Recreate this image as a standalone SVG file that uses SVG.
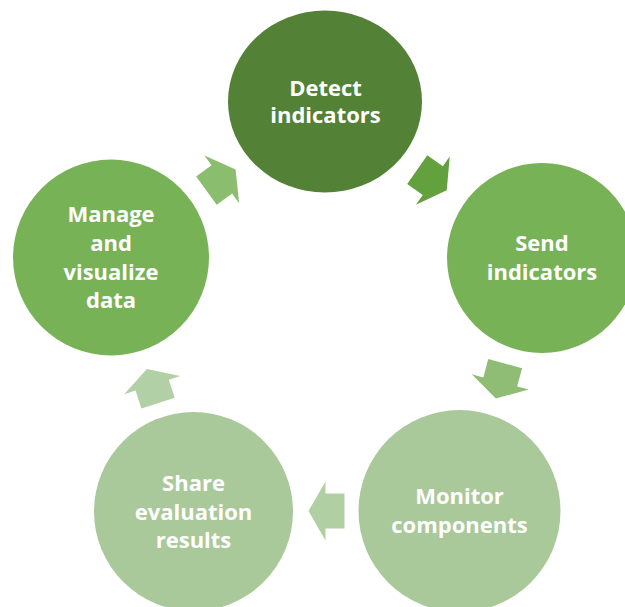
<svg xmlns="http://www.w3.org/2000/svg" width="625" height="607" viewBox="0 0 625 607">
  <defs>
    <!-- block arrow pointing along +x, centred on the origin -->
    <polygon id="cycle-arrow" points="-18,-17.5 1,-17.5 1,-29.5 18,0 1,29.5 1,17.5 -18,17.5"/>
  </defs>
  <style>
    .label { font-family: "Open Sans", "Noto Sans", "Liberation Sans", sans-serif; font-weight: 700; font-size: 22px; fill: #ffffff; text-anchor: middle; }
    .dark { fill: #538135; }
    .mid { fill: #78b257; }
    .light { fill: #a9c99b; }
  </style>
  <rect width="625" height="607" fill="#ffffff"/>

  <g id="connectors">
    <use href="#cycle-arrow" transform="translate(432,180) rotate(35)" fill="#63a03e"/>
    <use href="#cycle-arrow" transform="translate(500.5,381) rotate(105)" fill="#8fbd75"/>
    <use href="#cycle-arrow" transform="translate(326.5,511) rotate(180)" fill="#b0cfa3"/>
    <use href="#cycle-arrow" transform="translate(152.5,386) rotate(252)" fill="#b2d0a5"/>
    <use href="#cycle-arrow" transform="translate(221,180) rotate(-36)" fill="#8bbd6f"/>
  </g>

  <g id="detect-indicators">
    <ellipse class="dark" cx="325" cy="101.5" rx="97" ry="91"/>
    <text class="label" x="325.5" y="95.5">Detect</text>
    <text class="label" x="325.5" y="123">indicators</text>
  </g>

  <g id="send-indicators">
    <circle class="mid" cx="542" cy="258" r="95"/>
    <text class="label" x="542" y="251">Send</text>
    <text class="label" x="542" y="280">indicators</text>
  </g>

  <g id="monitor-components">
    <circle class="light" cx="459.5" cy="511" r="101"/>
    <text class="label" x="459.5" y="504">Monitor</text>
    <text class="label" x="459.5" y="533">components</text>
  </g>

  <g id="share-evaluation-results">
    <circle class="light" cx="193.5" cy="511.5" r="99.5"/>
    <text class="label" x="193.5" y="491">Share</text>
    <text class="label" x="193.5" y="519.5">evaluation</text>
    <text class="label" x="193.5" y="548">results</text>
  </g>

  <g id="manage-and-visualize-data">
    <circle class="mid" cx="111" cy="257.5" r="98"/>
    <text class="label" x="111" y="222">Manage</text>
    <text class="label" x="111" y="250.5">and</text>
    <text class="label" x="111" y="279.5">visualize</text>
    <text class="label" x="111" y="308">data</text>
  </g>
</svg>
